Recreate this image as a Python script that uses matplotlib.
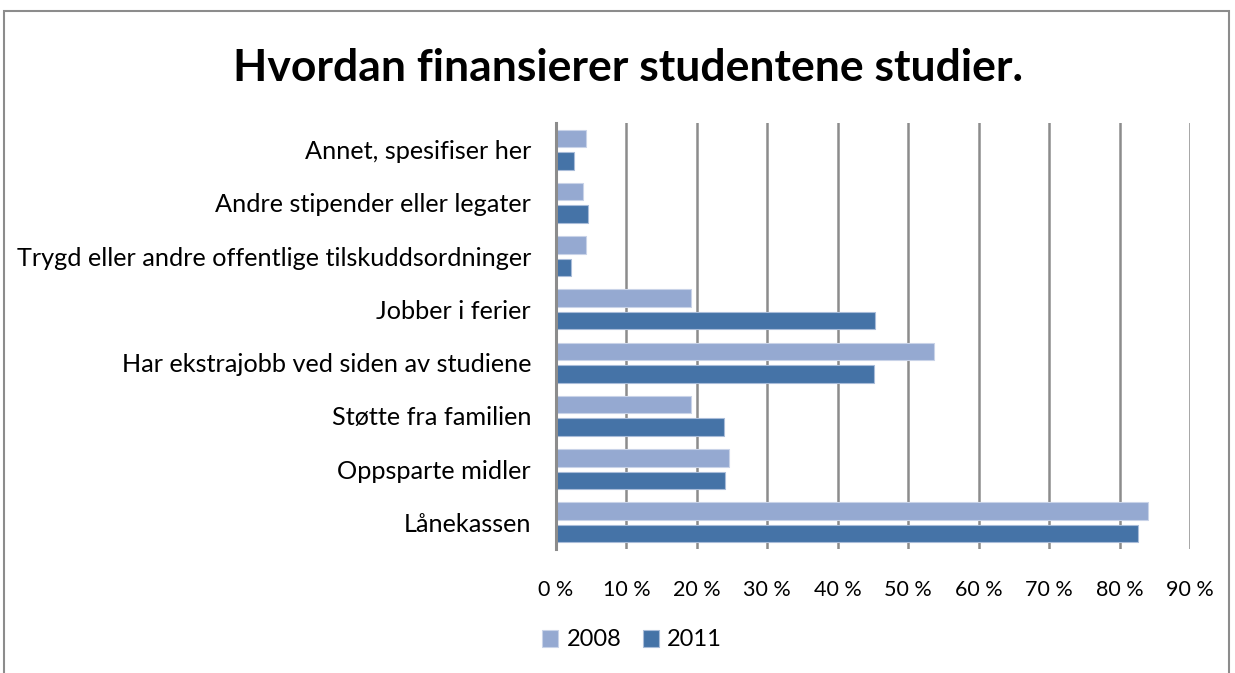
import matplotlib
matplotlib.use("Agg")
import matplotlib.pyplot as plt
import numpy as np
from matplotlib.patches import Rectangle
from matplotlib.ticker import FuncFormatter, MultipleLocator

categories = [
    "Annet, spesifiser her",
    "Andre stipender eller legater",
    "Trygd eller andre offentlige tilskuddsordninger",
    "Jobber i ferier",
    "Har ekstrajobb ved siden av studiene",
    "Støtte fra familien",
    "Oppsparte midler",
    "Lånekassen",
]
values_2008 = [4.3, 3.9, 4.3, 19.1, 53.7, 19.1, 24.5, 84.0]
values_2011 = [2.6, 4.5, 2.2, 45.3, 45.2, 23.8, 24.0, 82.6]
series_names = ["2008", "2011"]
title = "Hvordan finansierer studentene studier."

c2008 = "#95A9D1"
c2011 = "#4573A7"

plt.rcParams['font.family'] = ['Lato', 'DejaVu Sans']

W, H = 1235, 673
fig = plt.figure(figsize=(W / 100, H / 100), dpi=100)
ax = fig.add_axes([556 / W, 1 - 549 / H, (1190 - 556) / W, (549 - 123) / H])

y = np.arange(len(categories))
bh = 0.33
off = 0.21
ax.barh(y - off, values_2008, height=bh, color=c2008, edgecolor="#C9D3E8",
        linewidth=0.8, label=series_names[0], zorder=3)
ax.barh(y + off, values_2011, height=bh, color=c2011, edgecolor="#A9BCD9",
        linewidth=0.8, label=series_names[1], zorder=3)

ax.set_ylim(len(categories) - 0.5, -0.5)
ax.set_xlim(0, 90)
ax.set_yticks(y)
ax.set_yticklabels(categories, fontsize=18.2)
ax.xaxis.set_major_locator(MultipleLocator(10))
ax.xaxis.set_major_formatter(FuncFormatter(lambda v, p: f"{int(round(v))} %"))
ax.tick_params(axis="x", labelsize=15.5, length=0, pad=22)
ax.tick_params(axis="y", length=0, pad=18)
ax.grid(axis="x", color="#8C8C8C", linewidth=1.8, zorder=0)
ax.set_axisbelow(True)
for s in ["top", "right", "bottom"]:
    ax.spines[s].set_visible(False)
ax.spines["left"].set_color("#8C8C8C")
ax.spines["left"].set_linewidth(2.2)
ax.spines["left"].set_zorder(4)

fig.text(628 / W, 1 - 68 / H, title, ha="center", va="center",
         fontsize=32, fontweight="bold")

leg = fig.legend(loc="center", bbox_to_anchor=(632 / W, 1 - 640 / H), ncol=2,
                 frameon=False, fontsize=17, handlelength=0.7, handleheight=0.7,
                 handletextpad=0.35, columnspacing=0.9)

fig.patches.append(Rectangle((4 / W, -0.1), (1229 - 4) / W, 1.1 - 11 / H,
                             transform=fig.transFigure, fill=False,
                             edgecolor="#8C8C8C", linewidth=1.5))

fig.savefig("out.png", dpi=100)
